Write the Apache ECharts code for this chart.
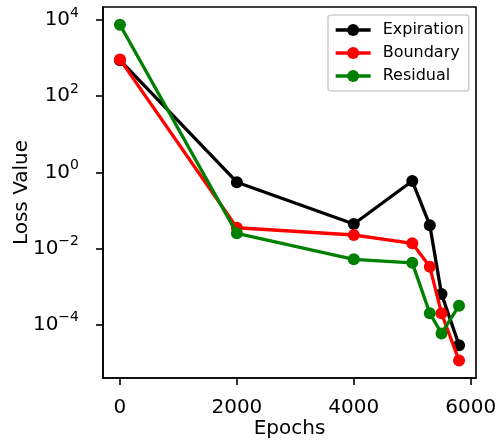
<!DOCTYPE html>
<html>
<head>
<meta charset="utf-8">
<script src="https://cdn.jsdelivr.net/npm/echarts@6/dist/echarts.min.js"></script>
<style>
html,body{margin:0;padding:0;background:#fff;}
#chart{width:497px;height:442px;}
</style>
</head>
<body>
<div id="chart"></div>
<script>
const epochs = [0, 2000, 4000, 5000, 5300, 5500, 5800];
const expiration = [880, 0.55, 0.044, 0.59, 0.041, 6.4e-4, 2.9e-5];
const boundary = [920, 0.035, 0.0226, 0.0137, 0.0033, 2.0e-4, 1.14e-5];
const residual = [7500, 0.025, 0.0052, 0.0042, 2.0e-4, 5.9e-5, 3.15e-4];
const xTicks = [0, 2000, 4000, 6000];
const yTicks = [1e-4, 1e-2, 1, 1e2, 1e4];
const seriesNames = ['Expiration', 'Boundary', 'Residual'];

const FONT = 'DejaVu Sans';
const colors = ['#000000', '#ff0000', '#008000'];
const allData = [expiration, boundary, residual];

function pairs(ys) { return epochs.map((x, i) => [x, ys[i]]); }

const chart = echarts.init(document.getElementById('chart'), null, {renderer: 'canvas'});
chart.setOption({
  animation: false,
  backgroundColor: '#ffffff',
  grid: {
    left: 103, right: 21, top: 7, bottom: 64,
    outerBoundsMode: 'none', containLabel: false,
    show: true, borderColor: '#000', borderWidth: 1.6, backgroundColor: 'transparent'
  },
  legend: {
    orient: 'vertical',
    left: 328, top: 15,
    padding: [7, 5, 7, 6],
    itemGap: 7,
    itemWidth: 35, itemHeight: 15,
    backgroundColor: '#fff',
    borderColor: '#d0d0d0', borderWidth: 1.6, borderRadius: 3,
    lineStyle: {width: 3.3},
    textStyle: {fontFamily: FONT, fontSize: 16, color: '#000', padding: [0, 0, 0, 7]},
    data: seriesNames
  },
  xAxis: {
    type: 'value',
    min: -290, max: 6090,
    name: 'Epochs', nameLocation: 'middle', nameGap: 41, nameMoveOverlap: false,
    nameTextStyle: {fontFamily: FONT, fontSize: 20, color: '#000'},
    splitLine: {show: false},
    axisLine: {show: true, onZero: false, lineStyle: {color: '#000', width: 1.6}},
    axisTick: {show: true, inside: false, length: 7, lineStyle: {color: '#000', width: 1.6}, customValues: xTicks},
    axisLabel: {fontFamily: FONT, fontSize: 20, color: '#000', margin: 20, customValues: xTicks,
      formatter: v => String(v)}
  },
  yAxis: {
    type: 'log', logBase: 10,
    min: Math.pow(10, -5.40), max: Math.pow(10, 4.34),
    name: 'Loss Value', nameLocation: 'middle', nameGap: 71, nameMoveOverlap: false,
    nameTextStyle: {fontFamily: FONT, fontSize: 20, color: '#000'},
    splitLine: {show: false},
    minorTick: {show: false},
    axisLine: {show: true, onZero: false, lineStyle: {color: '#000', width: 1.6}},
    axisTick: {show: true, inside: false, length: 7, lineStyle: {color: '#000', width: 1.6}, customValues: yTicks},
    axisLabel: {
      margin: 24, customValues: yTicks,
      formatter: function (v) {
        const e = Math.round(Math.log10(v));
        const s = e < 0 ? '\u2212' + (-e) : String(e);
        return '{b|10}{s|' + s + '}';
      },
      rich: {
        b: {fontFamily: FONT, fontSize: 20, lineHeight: 20, color: '#000', verticalAlign: 'bottom'},
        s: {fontFamily: FONT, fontSize: 14, lineHeight: 14, color: '#000', verticalAlign: 'bottom', padding: [0, 0, 10, 0]}
      }
    }
  },
  series: seriesNames.map((n, i) => ({
    name: n,
    type: 'line',
    data: pairs(allData[i]),
    z: 2 + i,
    symbol: 'circle',
    symbolSize: 12,
    showAllSymbol: true,
    color: colors[i],
    lineStyle: {color: colors[i], width: 3.3},
    itemStyle: {color: colors[i]},
    emphasis: {disabled: true}
  }))
});
</script>
</body>
</html>
